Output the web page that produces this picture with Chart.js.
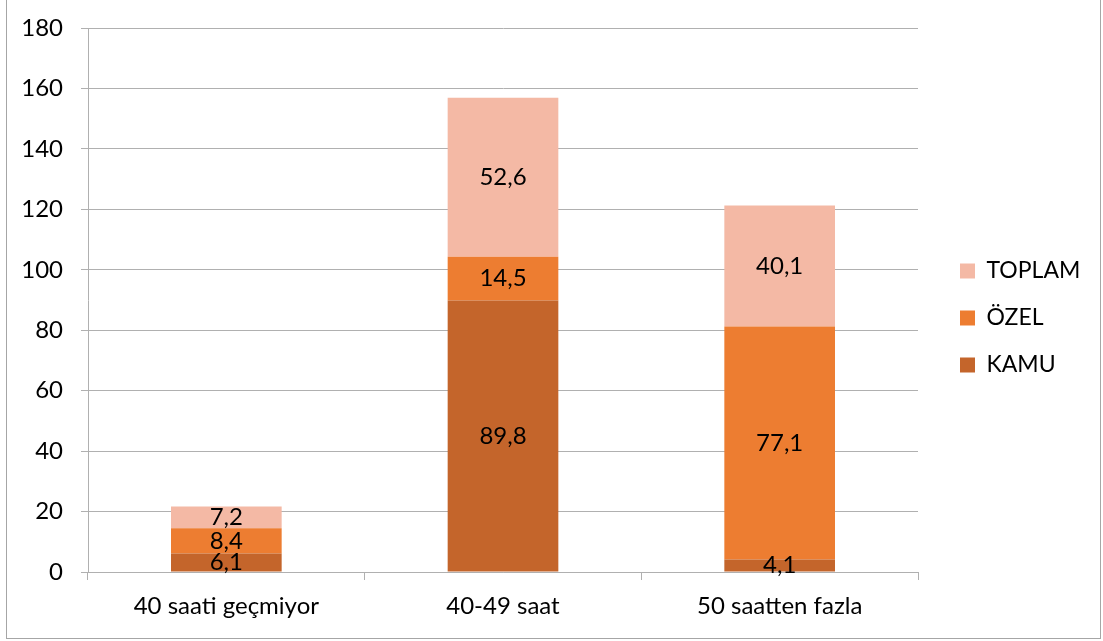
<!DOCTYPE html>
<html>
<head>
<meta charset="utf-8">
<script src="https://cdn.jsdelivr.net/npm/chart.js@4"></script>
<style>
  html, body { margin: 0; padding: 0; background: #fff; }
</style>
</head>
<body>
<canvas id="chart" width="1103" height="641"></canvas>
<script>
const categories = ['40 saati geçmiyor', '40-49 saat', '50 saatten fazla'];
const kamu = [6.1, 89.8, 4.1];
const ozel = [8.4, 14.5, 77.1];
const toplam = [7.2, 52.6, 40.1];
const yMin = 0, yMax = 180, yStep = 20;

const FONT = 'Lato, "Open Sans", sans-serif';
const FS = 24;
const GRID = '#b0b0b0';

// data labels in the middle of each segment, with decimal comma
const segmentLabels = {
  id: 'segmentLabels',
  afterDatasetsDraw(chart) {
    const ctx = chart.ctx;
    ctx.save();
    ctx.font = FS + 'px ' + FONT;
    ctx.fillStyle = '#000';
    ctx.textAlign = 'center';
    ctx.textBaseline = 'middle';
    chart.data.datasets.forEach((ds, i) => {
      chart.getDatasetMeta(i).data.forEach((bar, j) => {
        const txt = ds.data[j].toFixed(1).replace('.', ',');
        ctx.fillText(txt, bar.x, (bar.y + bar.base) / 2);
      });
    });
    ctx.restore();
  }
};

// move the legend a bit away from the plot
const legendPlace = {
  id: 'legendPlace',
  afterLayout(chart) {
    const lg = chart.legend;
    const w = lg.right - lg.left;
    lg.left = 936; lg.right = 936 + w;
    lg.top = 0; lg.bottom = 636;
  }
};

const frame = {
  id: 'frame',
  afterDraw(chart) {
    const ctx = chart.ctx;
    ctx.save();
    ctx.strokeStyle = '#a6a6a6';
    ctx.lineWidth = 1;
    ctx.strokeRect(6.5, -2, 1094, 640.5);
    ctx.restore();
  }
};

new Chart(document.getElementById('chart'), {
  type: 'bar',
  data: {
    labels: categories,
    datasets: [
      { label: 'KAMU', data: kamu, backgroundColor: '#c4652b' },
      { label: 'ÖZEL', data: ozel, backgroundColor: '#ed7d31' },
      { label: 'TOPLAM', data: toplam, backgroundColor: '#f4b9a5' }
    ]
  },
  options: {
    responsive: false,
    animation: false,
    layout: { padding: { top: 28, left: 0, right: 35, bottom: 0 } },
    datasets: { bar: { barPercentage: 0.4, categoryPercentage: 1, borderWidth: 0 } },
    scales: {
      x: {
        stacked: true,
        grid: { drawOnChartArea: false, drawTicks: true, tickLength: 8, color: GRID, offset: true },
        border: { color: GRID },
        ticks: { color: '#000', font: { family: FONT, size: FS }, padding: 12, maxRotation: 0 },
        afterFit(s) { s.height = 69; s.paddingLeft = 0; s.paddingRight = 0; }
      },
      y: {
        stacked: true,
        min: yMin, max: yMax,
        grid: { color: GRID, tickLength: 7 },
        border: { color: GRID },
        ticks: { stepSize: yStep, color: '#000', font: { family: FONT, size: FS }, padding: 18 },
        afterFit(s) { s.width = 88; s.paddingTop = 0; s.paddingBottom = 0; }
      }
    },
    plugins: {
      legend: {
        position: 'right',
        reverse: true,
        maxWidth: 150,
        labels: {
          boxWidth: 15, boxHeight: 15, padding: 24,
          color: '#000',
          font: { family: FONT, size: 23 }
        }
      },
      tooltip: { enabled: false }
    }
  },
  plugins: [segmentLabels, legendPlace, frame]
});
</script>
</body>
</html>
